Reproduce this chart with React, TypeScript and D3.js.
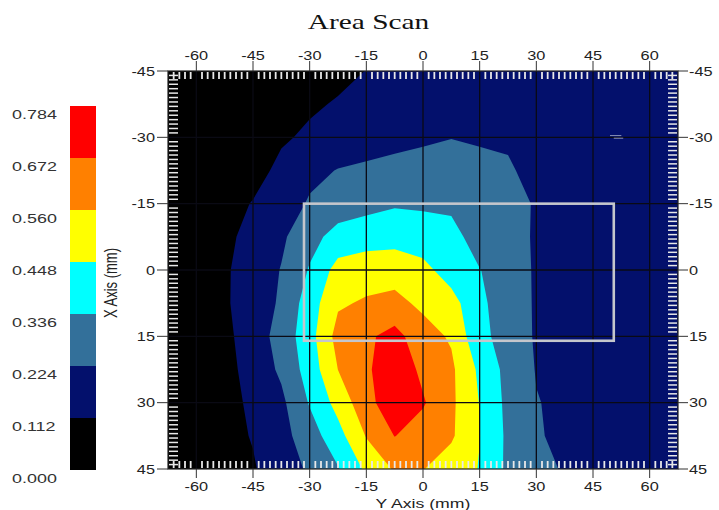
import React from 'react';
import * as d3 from 'd3';

// Horizontal axis ("Y Axis (mm)") sample positions, and vertical axis ("X Axis (mm)") sample positions
const scanCols = [-67.5, -60, -52.5, -45, -37.5, -30, -22.5, -15, -7.5, 0, 7.5, 15, 22.5, 30, 37.5, 45, 52.5, 60, 67.5];
const scanRows = [-45, -37.5, -30, -22.5, -15, -7.5, 0, 7.5, 15, 22.5, 30, 37.5, 45];

// Measured amplitude, one row per scanRows entry
const row0 = [0.02, 0.03, 0.04, 0.05, 0.06, 0.072, 0.085, 0.114, 0.14, 0.16, 0.17, 0.172, 0.17, 0.165, 0.16, 0.155, 0.15, 0.148, 0.145];
const row1 = [0.025, 0.035, 0.045, 0.057, 0.075, 0.097, 0.121, 0.145, 0.165, 0.18, 0.19, 0.19, 0.185, 0.175, 0.168, 0.162, 0.157, 0.153, 0.15];
const row2 = [0.03, 0.04, 0.052, 0.068, 0.098, 0.13, 0.16, 0.185, 0.205, 0.215, 0.222, 0.215, 0.205, 0.19, 0.178, 0.17, 0.165, 0.16, 0.155];
const row3 = [0.035, 0.045, 0.055, 0.07, 0.14, 0.198, 0.228, 0.239, 0.2435, 0.247, 0.26, 0.247, 0.2406, 0.181, 0.172, 0.168, 0.165, 0.16, 0.155];
const row4 = [0.03, 0.045, 0.07, 0.118, 0.17, 0.235, 0.28, 0.3, 0.325, 0.32, 0.31, 0.29, 0.265, 0.214, 0.19, 0.18, 0.175, 0.17, 0.165];
const row5 = [0.035, 0.055, 0.092, 0.14, 0.205, 0.3, 0.375, 0.4, 0.405, 0.39, 0.38, 0.277, 0.245, 0.218, 0.195, 0.185, 0.18, 0.175, 0.17];
const row6 = [0.04, 0.065, 0.1, 0.156, 0.229, 0.345, 0.49, 0.51, 0.52, 0.48, 0.397, 0.34, 0.265, 0.215, 0.195, 0.188, 0.183, 0.178, 0.172];
const row7 = [0.045, 0.07, 0.1, 0.16, 0.24, 0.393, 0.546, 0.573, 0.587, 0.54, 0.49, 0.36, 0.275, 0.214, 0.196, 0.19, 0.185, 0.18, 0.175];
const row8 = [0.04, 0.06, 0.085, 0.167, 0.266, 0.406, 0.6, 0.651, 0.712, 0.6, 0.548, 0.36, 0.3, 0.211, 0.195, 0.19, 0.186, 0.182, 0.178];
const row9 = [0.04, 0.058, 0.075, 0.155, 0.243, 0.386, 0.561, 0.6535, 0.75, 0.647, 0.58, 0.426, 0.3, 0.219, 0.2, 0.194, 0.19, 0.186, 0.182];
const row10 = [0.04, 0.055, 0.07, 0.135, 0.2, 0.345, 0.487, 0.635, 0.745, 0.683, 0.581, 0.444, 0.307, 0.228, 0.205, 0.198, 0.194, 0.19, 0.186];
const row11 = [0.04, 0.06, 0.08, 0.118, 0.187, 0.284, 0.408, 0.567, 0.675, 0.62, 0.575, 0.45, 0.314, 0.232, 0.205, 0.2, 0.196, 0.192, 0.188];
const row12 = [0.04, 0.055, 0.07, 0.103, 0.17, 0.24, 0.328, 0.469, 0.572, 0.564, 0.505, 0.443, 0.313, 0.255, 0.215, 0.205, 0.2, 0.196, 0.192];
const fieldRows = [row0, row1, row2, row3, row4, row5, row6, row7, row8, row9, row10, row11, row12];

const levels = [0.112, 0.224, 0.336, 0.448, 0.56, 0.672, 0.784];
const bandColors = ['#000000', '#03106c', '#33709a', '#00ffff', '#ffff00', '#ff8000', '#ff0000'];
const legendLabels = ['0.000', '0.112', '0.224', '0.336', '0.448', '0.560', '0.672', '0.784'];
const legendValues = [0, 0.112, 0.224, 0.336, 0.448, 0.56, 0.672, 0.784];

const colTicks = [-60, -45, -30, -15, 0, 15, 30, 45, 60];
const rowTicks = [-45, -30, -15, 0, 15, 30, 45];
const gridRows = [-30, -15, 0, 15, 30];

// Sensor outline (horizontal extent, vertical extent) in mm
const zoneCols = [-31.5, 50.5];
const zoneRows = [-15, 16];

const title = 'Area Scan';
const xTitle = 'Y Axis (mm)';
const yTitle = 'X Axis (mm)';

const SX = 1.36; // horizontal stretch of the original rendering

function SText({ x, y, children, anchor = 'middle', size = 12, family = 'Liberation Sans, Arial, sans-serif', fill = '#222', sx = SX }: any) {
  return (
    <text
      transform={`translate(${x},${y}) scale(${sx},1)`}
      textAnchor={anchor}
      fontSize={size}
      fontFamily={family}
      fill={fill}
    >
      {children}
    </text>
  );
}

export default function App() {
  const W = 719;
  const H = 510;
  const x = d3.scaleLinear().domain([-67.5, 67.5]).range([168, 678]);
  const y = d3.scaleLinear().domain([-45, 45]).range([71, 469]);
  const nx = scanCols.length;
  const ny = scanRows.length;
  const stepX = scanCols[1] - scanCols[0];
  const stepY = scanRows[1] - scanRows[0];
  const flat = fieldRows.flat();
  const contours = d3.contours().size([nx, ny]).thresholds(levels)(flat);

  const toPx = (p: number[]) => [
    x(scanCols[0] + (p[0] - 0.5) * stepX),
    y(scanRows[0] + (p[1] - 0.5) * stepY),
  ];
  const pathOf = (geom: any) =>
    geom.coordinates
      .map((poly: any) =>
        poly
          .map((ring: any) => 'M' + ring.map((pt: number[]) => toPx(pt).map((v) => v.toFixed(2)).join(',')).join('L') + 'Z')
          .join('')
      )
      .join('');

  const [x0, x1] = x.range();
  const [y0, y1] = y.range();

  const minorCols = d3.range(-66, 67.5, 1.5).filter((v) => Math.abs(v % 15) > 0.01);
  const minorRows = d3.range(-44, 45, 1).filter((v) => Math.abs(v % 15) > 0.01);

  const leg = d3.scaleLinear().domain([0, 0.784]).range([470, 106]);

  return (
    <svg width={W} height={H} style={{ position: 'absolute', left: 0, top: 0, background: '#fff' }}>
      <defs>
        <clipPath id="plotClip">
          <rect x={x0} y={y0} width={x1 - x0} height={y1 - y0} />
        </clipPath>
      </defs>

      {/* title */}
      <SText x={368.5} y={29} size={21} family="Liberation Serif, Times New Roman, serif" fill="#111" sx={1.4}>
        {title}
      </SText>

      {/* color legend */}
      {bandColors.map((c, i) => (
        <rect key={'lb' + i} x={70} y={leg(legendValues[i + 1])} width={26} height={leg(legendValues[i]) - leg(legendValues[i + 1])} fill={c} />
      ))}
      {legendLabels.map((t, i) => (
        <SText key={'ll' + i} x={12} y={leg(legendValues[i]) + 13} anchor="start" size={13} fill="#333" sx={1.38}>
          {t}
        </SText>
      ))}

      {/* filled contours */}
      <g clipPath="url(#plotClip)">
        <rect x={x0} y={y0} width={x1 - x0} height={y1 - y0} fill={bandColors[0]} />
        {contours.map((c: any, i: number) => (
          <path key={'c' + i} d={pathOf(c)} fill={bandColors[i + 1]} stroke="none" />
        ))}
        {/* grid lines */}
        {colTicks.map((t) => (
          <line key={'gv' + t} x1={x(t)} x2={x(t)} y1={y0} y2={y1} stroke="#0a0a14" strokeWidth={1.3} />
        ))}
        {gridRows.map((t) => (
          <line key={'gh' + t} x1={x0} x2={x1} y1={y(t)} y2={y(t)} stroke="#0a0a14" strokeWidth={1.3} />
        ))}
        {/* minor ticks, white, inside the frame */}
        {minorCols.map((t) => (
          <g key={'mc' + t}>
            <line x1={x(t)} x2={x(t)} y1={y0 + 1} y2={y0 + 8} stroke="#e8e8e8" strokeWidth={1.8} />
            <line x1={x(t)} x2={x(t)} y1={y1 - 8} y2={y1 - 1} stroke="#e8e8e8" strokeWidth={1.8} />
          </g>
        ))}
        {minorRows.map((t) => (
          <g key={'mr' + t}>
            <line x1={x0 + 1} x2={x0 + 10} y1={y(t)} y2={y(t)} stroke="#e8e8e8" strokeWidth={1.5} />
            <line x1={x1 - 10} x2={x1 - 1} y1={y(t)} y2={y(t)} stroke="#e8e8e8" strokeWidth={1.5} />
          </g>
        ))}
        {/* sensor outline */}
        <rect
          x={x(zoneCols[0])}
          y={y(zoneRows[0])}
          width={x(zoneCols[1]) - x(zoneCols[0])}
          height={y(zoneRows[1]) - y(zoneRows[0])}
          fill="none"
          stroke="#c4c6cc"
          strokeWidth={2.6}
        />
        {/* small marker */}
        <line x1={x(49.5)} x2={x(52.5)} y1={y(-30.4)} y2={y(-30.4)} stroke="#8890b8" strokeWidth={1} />
        <line x1={x(50.5)} x2={x(53)} y1={y(-29.8)} y2={y(-29.8)} stroke="#8890b8" strokeWidth={1} />
      </g>

      {/* frame */}
      <rect x={x0} y={y0} width={x1 - x0} height={y1 - y0} fill="none" stroke="#222" strokeWidth={1.2} />

      {/* top & bottom axis */}
      {colTicks.map((t) => (
        <g key={'ct' + t}>
          <line x1={x(t)} x2={x(t)} y1={y0 - 10} y2={y0} stroke="#333" strokeWidth={1} />
          <SText x={x(t)} y={y0 - 11} size={12}>{t}</SText>
          <line x1={x(t)} x2={x(t)} y1={y1} y2={y1 + 9} stroke="#333" strokeWidth={1} />
          <SText x={x(t)} y={y1 + 22} size={12}>{t}</SText>
        </g>
      ))}
      {/* left & right axis */}
      {rowTicks.map((t) => (
        <g key={'rt' + t}>
          <line x1={x0 - 11} x2={x0} y1={y(t)} y2={y(t)} stroke="#333" strokeWidth={1} />
          <SText x={x0 - 13} y={y(t) + 4.5} anchor="end" size={12}>{t}</SText>
          <line x1={x1} x2={x1 + 10} y1={y(t)} y2={y(t)} stroke="#333" strokeWidth={1} />
          <SText x={x1 + 11} y={y(t) + 4.5} anchor="start" size={12}>{t}</SText>
        </g>
      ))}

      {/* axis titles */}
      <SText x={(x0 + x1) / 2} y={y1 + 38.5} size={13}>{xTitle}</SText>
      <text
        transform={`translate(117,${(y0 + y1) / 2 + 13}) rotate(-90) scale(1,1.36)`}
        textAnchor="middle"
        fontSize={13}
        fontFamily="Liberation Sans, Arial, sans-serif"
        fill="#222"
      >
        {yTitle}
      </text>
    </svg>
  );
}
